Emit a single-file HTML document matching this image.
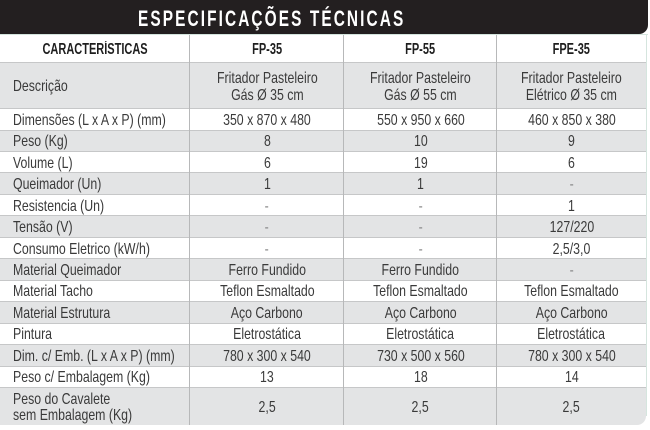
<!DOCTYPE html>
<html>
<head>
<meta charset="utf-8">
<style>
  html,body{margin:0;padding:0;}
  body{width:650px;height:430px;overflow:hidden;background:#fff;position:relative;
       font-family:"Liberation Sans",Arial,sans-serif;}
  .bar{position:absolute;left:0;top:0;width:648px;height:34px;background:#231f20;
       border-bottom-right-radius:9px;}
  .bar span{position:absolute;left:138px;top:8px;font-weight:bold;font-size:22px;line-height:22px;
       letter-spacing:3px;color:#fff;white-space:nowrap;transform:scaleX(.70);transform-origin:left center;}
  .tl{position:absolute;left:0;top:34px;width:648px;height:1px;background:#d3e4dd;}
  .r{position:absolute;left:0;width:646px;display:flex;box-sizing:border-box;}
  .g{background:#e3e4e5;}
  .w{background:#fff;}
  .bt{border-top:1px solid #c6c7c8;}
  .c{display:flex;align-items:center;justify-content:center;height:100%;box-sizing:border-box;padding-top:2px;flex-shrink:0;}
  .l{width:190px;justify-content:flex-start;padding-left:13px;}
  .c1{width:154px;}
  .c2{width:153px;}
  .c3{width:149px;}
  .c span{display:inline-block;white-space:nowrap;flex-shrink:0;font-size:16px;line-height:17px;color:#3a3a3a;
          transform:scaleX(.77);transform-origin:center center;text-align:center;}
  .l span{transform-origin:left center;text-align:left;}
  .h span{font-weight:bold;font-size:15.5px;color:#1e1e1e;transform:scaleX(.71);}
  .d span{color:#8a8a8a;}
  .two span{line-height:16px;}
  .v{position:absolute;top:35px;width:1px;height:390px;background:#b7b8b9;}
  .edge{position:absolute;left:646px;top:35px;width:1px;height:381px;background:#d5e5de;}
</style>
</head>
<body>
<div class="bar"><span>ESPECIFICAÇÕES TÉCNICAS</span></div>
<div class="tl"></div>

<div class="r w h" style="top:35px;height:27px;">
  <div class="c l" style="justify-content:center;padding-left:0;"><span style="transform-origin:center center">CARACTERÍSTICAS</span></div>
  <div class="c c1"><span>FP-35</span></div>
  <div class="c c2"><span>FP-55</span></div>
  <div class="c c3"><span>FPE-35</span></div>
</div>

<div class="r g bt" style="top:62px;height:46px;">
  <div class="c l"><span>Descrição</span></div>
  <div class="c c1"><span>Fritador Pasteleiro<br>Gás Ø 35 cm</span></div>
  <div class="c c2"><span>Fritador Pasteleiro<br>Gás Ø 55 cm</span></div>
  <div class="c c3"><span>Fritador Pasteleiro<br>Elétrico Ø 35 cm</span></div>
</div>

<div class="r w bt" style="top:108px;height:21.5px;">
  <div class="c l"><span>Dimensões (L x A x P) (mm)</span></div>
  <div class="c c1"><span>350 x 870 x 480</span></div>
  <div class="c c2"><span>550 x 950 x 660</span></div>
  <div class="c c3"><span>460 x 850 x 380</span></div>
</div>
<div class="r g bt" style="top:129.5px;height:21.5px;">
  <div class="c l"><span>Peso (Kg)</span></div>
  <div class="c c1"><span>8</span></div>
  <div class="c c2"><span>10</span></div>
  <div class="c c3"><span>9</span></div>
</div>
<div class="r w bt" style="top:151px;height:21.5px;">
  <div class="c l"><span>Volume (L)</span></div>
  <div class="c c1"><span>6</span></div>
  <div class="c c2"><span>19</span></div>
  <div class="c c3"><span>6</span></div>
</div>
<div class="r g bt" style="top:172.4px;height:21.5px;">
  <div class="c l"><span>Queimador (Un)</span></div>
  <div class="c c1"><span>1</span></div>
  <div class="c c2"><span>1</span></div>
  <div class="c c3 d"><span>-</span></div>
</div>
<div class="r w bt" style="top:193.8px;height:21.5px;">
  <div class="c l"><span>Resistencia (Un)</span></div>
  <div class="c c1 d"><span>-</span></div>
  <div class="c c2 d"><span>-</span></div>
  <div class="c c3"><span>1</span></div>
</div>
<div class="r g bt" style="top:215.3px;height:21.5px;">
  <div class="c l"><span>Tensão (V)</span></div>
  <div class="c c1 d"><span>-</span></div>
  <div class="c c2 d"><span>-</span></div>
  <div class="c c3"><span>127/220</span></div>
</div>
<div class="r w bt" style="top:236.8px;height:21.5px;">
  <div class="c l"><span>Consumo Eletrico (kW/h)</span></div>
  <div class="c c1 d"><span>-</span></div>
  <div class="c c2 d"><span>-</span></div>
  <div class="c c3"><span>2,5/3,0</span></div>
</div>
<div class="r g bt" style="top:258.2px;height:21.5px;">
  <div class="c l"><span>Material Queimador</span></div>
  <div class="c c1"><span>Ferro Fundido</span></div>
  <div class="c c2"><span>Ferro Fundido</span></div>
  <div class="c c3 d"><span>-</span></div>
</div>
<div class="r w bt" style="top:279.7px;height:21.5px;">
  <div class="c l"><span>Material Tacho</span></div>
  <div class="c c1"><span>Teflon Esmaltado</span></div>
  <div class="c c2"><span>Teflon Esmaltado</span></div>
  <div class="c c3"><span>Teflon Esmaltado</span></div>
</div>
<div class="r g bt" style="top:301.1px;height:21.5px;">
  <div class="c l"><span>Material Estrutura</span></div>
  <div class="c c1"><span>Aço Carbono</span></div>
  <div class="c c2"><span>Aço Carbono</span></div>
  <div class="c c3"><span>Aço Carbono</span></div>
</div>
<div class="r w bt" style="top:322.6px;height:21.5px;">
  <div class="c l"><span>Pintura</span></div>
  <div class="c c1"><span>Eletrostática</span></div>
  <div class="c c2"><span>Eletrostática</span></div>
  <div class="c c3"><span>Eletrostática</span></div>
</div>
<div class="r g bt" style="top:344px;height:21.5px;">
  <div class="c l"><span>Dim. c/ Emb. (L x A x P) (mm)</span></div>
  <div class="c c1"><span>780 x 300 x 540</span></div>
  <div class="c c2"><span>730 x 500 x 560</span></div>
  <div class="c c3"><span>780 x 300 x 540</span></div>
</div>
<div class="r w bt" style="top:365.5px;height:21.5px;">
  <div class="c l"><span>Peso c/ Embalagem (Kg)</span></div>
  <div class="c c1"><span>13</span></div>
  <div class="c c2"><span>18</span></div>
  <div class="c c3"><span>14</span></div>
</div>
<div class="r g bt two" style="top:387px;height:38px;border-bottom-right-radius:9px;">
  <div class="c l"><span>Peso do Cavalete<br>sem Embalagem (Kg)</span></div>
  <div class="c c1"><span>2,5</span></div>
  <div class="c c2"><span>2,5</span></div>
  <div class="c c3"><span>2,5</span></div>
</div>

<div class="v" style="left:189px;"></div>
<div class="v" style="left:343px;"></div>
<div class="v" style="left:496px;"></div>
<div class="edge"></div>
</body>
</html>
